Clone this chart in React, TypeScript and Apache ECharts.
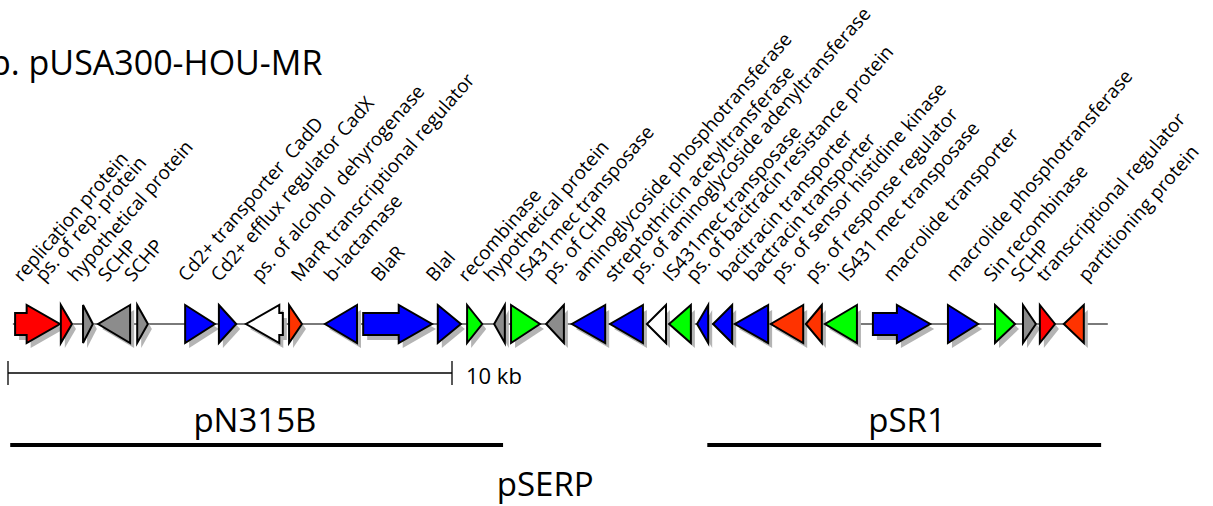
import { useEffect, useRef } from 'react';
import * as echarts from 'echarts';

// ---- data (positions in kb) ----
const geneLabels = [
  'replication protein', 'ps. of rep. protein', 'hypothetical protein', 'SCHP', 'SCHP',
  'Cd2+ transporter  CadD', 'Cd2+ efflux regulator CadX', 'ps. of alcohol  dehyrogenase',
  'MarR transcriptional regulator', 'b-lactamase', 'BlaR', 'BlaI', 'recombinase',
  'hypothetical protein', 'IS431mec transposase', 'ps. of CHP', 'aminoglycoside phosphotransferase',
  'streptothricin acetyltransferase', 'ps. of aminoglycoside adenyltransferase', 'IS431mec transposase',
  'ps. of bacitracin resistance protein', 'bacitracin transporter', 'bactracin transporter',
  'ps. of sensor histidine kinase', 'ps. of response regulator', 'IS431 mec transposase',
  'macrolide transporter', 'macrolide phosphotransferase', 'Sin recombinase', 'SCHP',
  'transcriptional regulator', 'partitioning protein',
];
const geneStart = [0.16, 1.19, 1.69, 2.03, 2.91, 3.99, 4.75, 5.36, 6.33, 7.14, 8.0, 9.68, 10.34, 10.95, 11.33, 12.12,
  12.7, 13.56, 14.39, 14.89, 15.52, 15.88, 16.37, 17.18, 17.97, 18.4, 19.48, 21.17, 22.23, 22.86, 23.24, 23.78];
const geneEnd = [1.17, 1.44, 1.91, 2.75, 3.15, 4.66, 5.14, 6.19, 6.62, 7.86, 9.55, 10.2, 10.68, 11.19, 11.98, 12.52,
  13.45, 14.3, 14.82, 15.38, 15.77, 16.31, 17.12, 17.91, 18.33, 19.12, 20.77, 21.85, 22.68, 23.15, 23.58, 24.23];
const geneStrand = [1, 1, 1, -1, 1, 1, 1, -1, 1, -1, 1, 1, 1, -1, 1, -1, -1, -1, -1, -1, -1, -1, -1, -1, -1, -1, 1, 1, 1, 1, 1, -1];
const geneClass = ['red', 'red', 'gray', 'gray', 'gray', 'blue', 'blue', 'white', 'orange', 'blue', 'blue', 'blue', 'green',
  'gray', 'green', 'gray', 'blue', 'blue', 'white', 'green', 'blue', 'blue', 'blue', 'orange', 'orange', 'green',
  'blue', 'blue', 'green', 'gray', 'red', 'orange'];
const labelAt = [0.32, 0.81, 1.55, 2.23, 2.82, 4.03, 4.77, 5.68, 6.58, 7.32, 8.38, 9.62, 10.34, 10.92, 11.64, 12.25,
  12.93, 13.63, 14.21, 14.95, 15.47, 16.19, 16.78, 17.39, 18.15, 18.9, 19.91, 21.33, 22.18, 22.79, 23.36, 24.3];

const backbone = [0.11, 24.77];
const scaleBarKb = [0, 10];
const scaleBarLabel = '10 kb';

const plasmidNames = ['pN315B', 'pSR1'];
const plasmidStart = [0.05, 15.75];
const plasmidEnd = [11.15, 24.62];
const plasmidLabelAt = [5.56, 20.25];
const hostName = 'pSERP';
const hostLabelAt = 12.1;

const title = 'b. pUSA300-HOU-MR';

// ---- styling ----
const COLORS: Record<string, string> = {
  red: '#ff0000', orange: '#ff3300', blue: '#0000ff', green: '#00ff00', gray: '#8c8c8c', white: '#ffffff',
};
const FONT = '"Open Sans", "Noto Sans", sans-serif';
const TRACK_Y = 324;
const HEAD_H = 19;
const SHAFT_H = 11;
const HEAD_KB = 0.75;
const LABEL_Y = 283;
const LABEL_F = 19;
const ANG = (49 * Math.PI) / 180;
const CENTRAL = 0.388;

function genePoints(api: any, s: number, e: number, strand: number, dx: number, dy: number) {
  const len = e - s;
  const head = len > HEAD_KB + 0.04 ? HEAD_KB : len;
  const tail = strand > 0 ? s : e;
  const tip = strand > 0 ? e : s;
  const neck = strand > 0 ? e - head : s + head;
  let pts: number[][];
  if (head < len) {
    pts = [
      [tail, TRACK_Y - SHAFT_H], [neck, TRACK_Y - SHAFT_H], [neck, TRACK_Y - HEAD_H], [tip, TRACK_Y],
      [neck, TRACK_Y + HEAD_H], [neck, TRACK_Y + SHAFT_H], [tail, TRACK_Y + SHAFT_H],
    ];
  } else {
    pts = [[tail, TRACK_Y - HEAD_H], [tip, TRACK_Y], [tail, TRACK_Y + HEAD_H]];
  }
  return pts.map((p) => {
    const c = api.coord(p);
    return [c[0] + dx, c[1] + dy];
  });
}

function textEl(x: number, y: number, text: string, size: number, align: string, rotation = 0) {
  return {
    type: 'text',
    x,
    y,
    rotation,
    style: {
      text,
      fill: '#000',
      fontSize: size,
      fontFamily: FONT,
      fontWeight: 'normal',
      align,
      textAlign: align,
      verticalAlign: 'middle',
      textVerticalAlign: 'middle',
    },
  };
}

export default function App() {
  const ref = useRef<HTMLDivElement>(null);
  useEffect(() => {
    const chart = echarts.init(ref.current!, null, { renderer: 'svg' });
    const geneData = geneStart.map((s, i) => [s, geneEnd[i], i]);
    chart.setOption({
      animation: false,
      backgroundColor: '#ffffff',
      grid: { left: 8, right: 95, top: 0, bottom: 0 },
      xAxis: { type: 'value', min: 0, max: 25, show: false },
      yAxis: { type: 'value', min: 0, max: 506, inverse: true, show: false },
      graphic: [
        textEl(-10, 75 - CENTRAL * 34, title, 34, 'left'),
      ],
      series: [
        {
          type: 'line',
          z: 1,
          silent: true,
          showSymbol: false,
          symbol: 'none',
          data: [[backbone[0], TRACK_Y], [backbone[1], TRACK_Y]],
          lineStyle: { color: '#7a7a7a', width: 2 },
        },
        {
          type: 'custom',
          z: 2,
          silent: true,
          data: geneData,
          encode: { x: [0, 1] },
          renderItem: (params: any, api: any) => {
            const i = api.value(2);
            return {
              type: 'polygon',
              shape: { points: genePoints(api, api.value(0), api.value(1), geneStrand[i], 4, 5) },
              style: { fill: '#b4b4b4', stroke: 'none' },
            };
          },
        },
        {
          type: 'custom',
          z: 3,
          silent: true,
          data: geneData,
          encode: { x: [0, 1] },
          renderItem: (params: any, api: any) => {
            const i = api.value(2);
            const a = api.coord([labelAt[i], LABEL_Y]);
            const off = CENTRAL * LABEL_F;
            return {
              type: 'group',
              children: [
                {
                  type: 'polygon',
                  shape: { points: genePoints(api, api.value(0), api.value(1), geneStrand[i], 0, 0) },
                  style: { fill: COLORS[geneClass[i]], stroke: '#000', lineWidth: 2, lineJoin: 'miter' },
                },
                textEl(a[0] - off * Math.sin(ANG), a[1] - off * Math.cos(ANG), geneLabels[i], LABEL_F, 'left', ANG),
              ],
            };
          },
        },
        {
          type: 'custom',
          z: 3,
          silent: true,
          data: [scaleBarKb],
          encode: { x: [0, 1] },
          renderItem: (params: any, api: any) => {
            const p0 = api.coord([api.value(0), 373]);
            const p1 = api.coord([api.value(1), 373]);
            const ls = { stroke: '#000', lineWidth: 1.3 };
            return {
              type: 'group',
              children: [
                { type: 'line', shape: { x1: p0[0], y1: p0[1], x2: p1[0], y2: p1[1] }, style: ls },
                { type: 'line', shape: { x1: p0[0], y1: p0[1] - 12, x2: p0[0], y2: p0[1] + 12 }, style: ls },
                { type: 'line', shape: { x1: p1[0], y1: p1[1] - 12, x2: p1[0], y2: p1[1] + 12 }, style: ls },
                textEl(p1[0] + 14, 384 - CENTRAL * 22, scaleBarLabel, 22, 'left'),
              ],
            };
          },
        },
        {
          type: 'custom',
          z: 3,
          silent: true,
          data: plasmidNames.map((n, i) => [plasmidStart[i], plasmidEnd[i], i]),
          encode: { x: [0, 1] },
          renderItem: (params: any, api: any) => {
            const i = api.value(2);
            const p0 = api.coord([api.value(0), 445]);
            const p1 = api.coord([api.value(1), 445]);
            const t = api.coord([plasmidLabelAt[i], 432]);
            return {
              type: 'group',
              children: [
                { type: 'line', shape: { x1: p0[0], y1: p0[1], x2: p1[0], y2: p1[1] }, style: { stroke: '#000', lineWidth: 4 } },
                textEl(t[0], t[1] - CENTRAL * 33, plasmidNames[i], 33, 'center'),
              ],
            };
          },
        },
        {
          type: 'custom',
          z: 3,
          silent: true,
          data: [[hostLabelAt]],
          encode: { x: 0 },
          renderItem: (params: any, api: any) => {
            const t = api.coord([api.value(0), 496]);
            return textEl(t[0], t[1] - CENTRAL * 33, hostName, 33, 'center');
          },
        },
      ],
    });
    return () => chart.dispose();
  }, []);
  return (
    <div
      ref={ref}
      style={{ position: 'fixed', left: 0, top: 0, width: 1213, height: 506, background: '#fff' }}
    />
  );
}
